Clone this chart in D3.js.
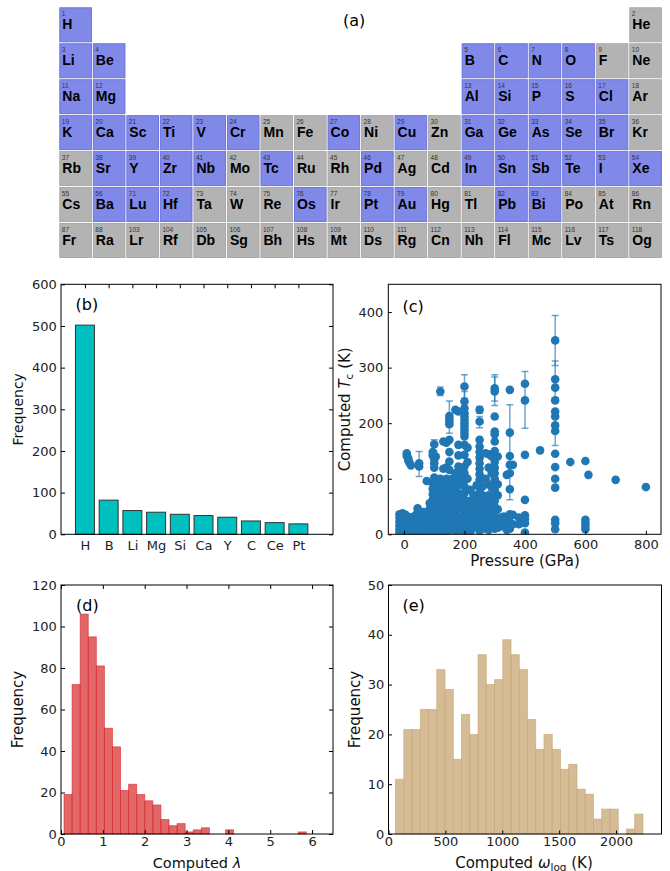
<!DOCTYPE html>
<html>
<head>
<meta charset="utf-8">
<script src="https://cdn.jsdelivr.net/npm/d3@7"></script>
<style>
  body { margin: 0; background: #fff; }
  text { font-family: "DejaVu Sans", sans-serif; }
</style>
</head>
<body>
<svg id="fig" width="670" height="871"></svg>
<script>
// ---------- data ----------
// (a) periodic table, one string per period, empty slot = no element
const tableRows = [
  "H,,,,,,,,,,,,,,,,,He",
  "Li,Be,,,,,,,,,,,B,C,N,O,F,Ne",
  "Na,Mg,,,,,,,,,,,Al,Si,P,S,Cl,Ar",
  "K,Ca,Sc,Ti,V,Cr,Mn,Fe,Co,Ni,Cu,Zn,Ga,Ge,As,Se,Br,Kr",
  "Rb,Sr,Y,Zr,Nb,Mo,Tc,Ru,Rh,Pd,Ag,Cd,In,Sn,Sb,Te,I,Xe",
  "Cs,Ba,Lu,Hf,Ta,W,Re,Os,Ir,Pt,Au,Hg,Tl,Pb,Bi,Po,At,Rn",
  "Fr,Ra,Lr,Rf,Db,Sg,Bh,Hs,Mt,Ds,Rg,Cn,Nh,Fl,Mc,Lv,Ts,Og"
];
const tableNumbers = [
  "1,,,,,,,,,,,,,,,,,2",
  "3,4,,,,,,,,,,,5,6,7,8,9,10",
  "11,12,,,,,,,,,,,13,14,15,16,17,18",
  "19,20,21,22,23,24,25,26,27,28,29,30,31,32,33,34,35,36",
  "37,38,39,40,41,42,43,44,45,46,47,48,49,50,51,52,53,54",
  "55,56,71,72,73,74,75,76,77,78,79,80,81,82,83,84,85,86",
  "87,88,103,104,105,106,107,108,109,110,111,112,113,114,115,116,117,118"
];
const studiedElements = ["H","Li","Be","Na","Mg","B","C","N","O","Al","Si","P","S","Cl",
  "K","Ca","Sc","Ti","V","Cr","Co","Cu","Ga","Ge","As","Se","Br",
  "Sr","Y","Zr","Nb","Tc","Pd","In","Sn","Sb","Te","I","Xe",
  "Ba","Lu","Hf","Os","Pt","Au","Pb","Bi"];

// (b) element frequency
const bCats = ["H","B","Li","Mg","Si","Ca","Y","C","Ce","Pt"];
const bCounts = [502, 82, 57, 53, 48, 45, 41, 32, 28, 25];
const bTicks = [0, 100, 200, 300, 400, 500, 600];

// (c) Tc vs pressure: [pressure GPa, list of Tc (K)]
const tcColumns = [
  [-15, [3, 9, 16, 23, 30, 36]],
  [-5, [2, 10, 18, 26, 33, 38]],
  [5, [4, 12, 20, 28, 35]],
  [9, [146, 141]],
  [14, [137, 133]],
  [18, [129]],
  [23, [124]],
  [15, [3, 9, 17, 25, 31]],
  [25, [5, 14, 22, 30]],
  [35, [3, 11, 19, 27, 33]],
  [45, [6, 15, 24, 32, 40, 47]],
  [50, [128, 122]],
  [55, [4, 12, 20, 28, 36]],
  [65, [5, 14, 23, 31, 40]],
  [75, [8, 18, 28, 38, 96]],
  [85, [6, 16, 26, 36, 46, 56]],
  [95, [4, 12, 22, 32, 42, 52, 62, 72, 82, 92, 142, 148]],
  [100, [162, 135, 128, 120, 102, 88, 76, 64, 50, 38, 26, 15, 6]],
  [105, [30, 58, 96, 140]],
  [110, [2, 12, 22, 44, 70, 84]],
  [120, [257, 100, 78, 60, 40, 20, 8]],
  [125, [52, 30, 16, 90]],
  [130, [167, 118, 96, 82, 68, 54, 40, 28, 14, 4]],
  [140, [165, 120, 100, 86, 72, 58, 46, 34, 22, 10, 2]],
  [150, [213, 208, 203, 198, 170, 148, 131, 116, 98, 90, 78, 66, 54, 42, 30, 18, 8]],
  [160, [100, 80, 60, 40, 22, 10]],
  [170, [224, 110, 96, 82, 70, 56, 44, 30, 18, 6]],
  [180, [221, 161, 142, 122, 102, 88, 74, 60, 46, 32, 20, 8]],
  [190, [112, 92, 70, 50, 30, 14]],
  [200, [266, 239, 227, 218, 212, 206, 200, 194, 188, 182, 176, 161, 143, 122, 110, 98, 86, 74, 62, 50, 38, 26, 14, 4]],
  [210, [156, 130, 100, 80, 60, 40, 20, 8]],
  [220, [80, 60, 46, 32, 16, 4]],
  [230, [70, 50, 38, 24, 12]],
  [240, [88, 60, 48, 30, 14]],
  [250, [224, 203, 170, 158, 148, 138, 128, 118, 108, 98, 88, 76, 64, 52, 40, 28, 16, 6]],
  [260, [86, 70, 56, 42, 30, 18]],
  [270, [146, 100, 60, 40, 24, 10]],
  [280, [144, 120, 90, 70, 52, 36, 20, 8]],
  [290, [140, 110, 84, 62, 44, 28, 14]],
  [300, [263, 257, 212, 185, 180, 167, 150, 140, 130, 120, 110, 100, 90, 80, 70, 60, 50, 40, 30, 20, 10]],
  [310, [140, 90, 70, 45, 26, 12]],
  [320, [30, 14]],
  [330, [32, 20]],
  [340, [107, 30, 18, 8]],
  [350, [260, 183, 141, 125, 110, 81, 36, 22, 10]],
  [360, [125, 35, 18]],
  [380, [30, 18]],
  [400, [271, 241, 143, 62, 34, 27, 20, 3]],
  [450, [151]],
  [500, [349, 279, 264, 241, 221, 212, 196, 186, 145, 121, 100, 84, 26, 20, 9]],
  [550, [130]],
  [600, [132, 26, 20, 15, 9]],
  [610, [107]],
  [700, [98]],
  [800, [85]]
];
// error bars: [pressure, low, high]
const tcErrors = [
  [50, 104, 149], [120, 250, 265], [150, 182, 240], [200, 245, 287], [200, 225, 257],
  [250, 192, 212], [250, 218, 230], [300, 240, 287], [300, 232, 283], [350, 62, 233],
  [400, 191, 293], [500, 304, 394], [500, 246, 312], [500, 160, 212], [100, 150, 170]
];
const cXTicks = [0, 200, 400, 600, 800];
const cYTicks = [0, 100, 200, 300, 400];

// (d) lambda histogram
const lamBinStart = 0.072, lamBinWidth = 0.193;
const lamCounts = [19, 72, 106, 95, 81, 51, 42, 21, 24, 19, 16, 14, 7, 4, 5,
                   1, 2, 3, 0, 0, 2, 0, 0, 0, 0, 0, 0, 0, 0, 1];
const dXTicks = [0, 1, 2, 3, 4, 5, 6];
const dYTicks = [0, 20, 40, 60, 80, 100, 120];

// (e) omega_log histogram
const wBinStart = 62, wBinWidth = 72.5;
const wCounts = [11, 21, 21, 25, 25, 33, 29, 15, 24, 20, 36, 30, 31, 39, 36,
                 33, 23, 17, 20, 17, 13, 14, 9, 8, 3, 5, 5, 0, 1, 4];
const eXTicks = [0, 500, 1000, 1500, 2000];
const eYTicks = [0, 10, 20, 30, 40, 50];

// ---------- drawing ----------
const svg = d3.select("#fig");

// (a) periodic table
const studied = new Set(studiedElements);
const colX = d3.scaleLinear().domain([0, 17]).range([59.3, 629.3]);
const rowY = d3.scaleLinear().domain([0, 6]).range([7.3, 223]);
const cellW = 32.6, cellH = 35;
const cells = [];
tableRows.forEach((row, r) => {
  const nums = tableNumbers[r].split(",");
  row.split(",").forEach((s, c) => { if (s) cells.push({sym: s, num: nums[c], r, c}); });
});
const cellG = svg.append("g").selectAll("g").data(cells).join("g")
  .attr("transform", d => `translate(${colX(d.c)},${rowY(d.r)})`);
cellG.append("rect")
  .attr("x", 0.5).attr("y", 0.5).attr("width", cellW - 1).attr("height", cellH - 1)
  .attr("fill", d => studied.has(d.sym) ? "#8189e8" : "#b3b3b3")
  .attr("stroke", d => studied.has(d.sym) ? "#6b74e0" : "#a9a9a9")
  .attr("stroke-width", 1);
cellG.append("text").attr("x", 2.5).attr("y", 9)
  .style("font-family", "'Liberation Sans', Arial, sans-serif")
  .style("font-size", "6.5px").attr("fill", "#333").text(d => d.num);
cellG.append("text").attr("x", 3).attr("y", 22)
  .style("font-family", "'Liberation Sans', Arial, sans-serif")
  .style("font-size", "14px").style("font-weight", "bold").attr("fill", "#000")
  .text(d => d.sym);
svg.append("text").attr("x", 343).attr("y", 26).style("font-size", "16px").text("(a)");

// axis helper: inside ticks, optional mirrored ticks, frame
function frame(g, x, y, opts) {
  const [x0, x1] = x.range(), [y0, y1] = y.range();
  const tick = opts.tick || 4;
  const fs = opts.fontSize || "13px";
  const bottom = g.append("g").attr("transform", `translate(0,${y0})`)
    .call(d3.axisBottom(x).tickValues(opts.xTicks).tickSize(-tick)
      .tickPadding(opts.xPad || 3).tickFormat(opts.xFormat || d3.format("d")));
  const left = g.append("g").attr("transform", `translate(${x0},0)`)
    .call(d3.axisLeft(y).tickValues(opts.yTicks).tickSize(-tick)
      .tickPadding(opts.yPad || 4.3).tickFormat(d3.format("d")));
  if (opts.mirror) {
    g.append("g").attr("transform", `translate(0,${y1})`)
      .call(d3.axisTop(x).tickValues(opts.xTicks).tickSize(-tick).tickFormat(""));
    g.append("g").attr("transform", `translate(${x1},0)`)
      .call(d3.axisRight(y).tickValues(opts.yTicks).tickSize(-tick).tickFormat(""));
  }
  g.selectAll(".domain").remove();
  g.selectAll(".tick line").attr("stroke", "#000").attr("stroke-width", 1);
  g.selectAll(".tick text").attr("fill", "#222").style("font-size", fs)
    .style("font-family", "'DejaVu Sans', sans-serif");
  g.append("rect").attr("x", x0).attr("y", y1).attr("width", x1 - x0).attr("height", y0 - y1)
    .attr("fill", "none").attr("stroke", "#000").attr("stroke-width", 1);
  return {bottom, left};
}
function yLabel(cx, cy, size, parts) {
  const t = svg.append("text").attr("transform", `translate(${cx},${cy}) rotate(-90)`)
    .attr("text-anchor", "middle").style("font-size", size).attr("fill", "#111");
  parts(t);
}

// (b) bar chart
{
  const x = d3.scaleLinear().domain([-1.01, 10.46]).range([61, 333]);
  const y = d3.scaleLinear().domain([0, 600]).range([534.3, 284.3]);
  const g = svg.append("g");
  const bw = x(0.4) - x(0);
  g.selectAll("rect.bar").data(bCounts).join("rect").attr("class", "bar")
    .attr("x", (d, i) => x(i) - bw).attr("width", 2 * bw)
    .attr("y", d => y(d)).attr("height", d => y(0) - y(d))
    .attr("fill", "#00bfbf").attr("stroke", "#333").attr("stroke-width", 1);
  const ax = svg.append("g");
  // top ticks at categories
  ax.append("g").attr("transform", `translate(0,284.3)`)
    .call(d3.axisTop(x).tickValues(d3.range(bCats.length)).tickSize(-4).tickFormat(""));
  ax.append("g").attr("transform", `translate(0,534.3)`)
    .call(d3.axisBottom(x).tickValues(d3.range(bCats.length)).tickSize(0).tickPadding(6)
      .tickFormat(i => bCats[i]));
  ax.append("g").attr("transform", `translate(61,0)`)
    .call(d3.axisLeft(y).tickValues(bTicks).tickSize(-4).tickPadding(4.3));
  ax.append("g").attr("transform", `translate(333,0)`)
    .call(d3.axisRight(y).tickValues(bTicks).tickSize(-4).tickFormat(""));
  ax.selectAll(".domain").remove();
  ax.selectAll(".tick line").attr("stroke", "#000");
  ax.selectAll(".tick text").attr("fill", "#222").style("font-size", "13px")
    .style("font-family", "'DejaVu Sans', sans-serif");
  ax.append("rect").attr("x", 61).attr("y", 284.3).attr("width", 272).attr("height", 250)
    .attr("fill", "none").attr("stroke", "#000");
  svg.append("text").attr("x", 75.5).attr("y", 310).style("font-size", "16px").text("(b)");
  yLabel(22.5, 409.3, "14px", t => t.text("Frequency"));
}

// (c) scatter with error bars
{
  const x = d3.scaleLinear().domain([-52, 850]).range([388.3, 661]);
  const y = d3.scaleLinear().domain([0, 450]).range([534.3, 284.3]);
  svg.append("clipPath").attr("id", "clipC").append("rect")
    .attr("x", 388.3).attr("y", 284.3).attr("width", 272.7).attr("height", 250);
  const g = svg.append("g").attr("clip-path", "url(#clipC)");
  const pts = tcColumns.flatMap(([p, ts]) => ts.map(t => [p, t]));
  const eb = g.append("g").attr("stroke", "#1f77b4").attr("stroke-opacity", 0.65)
    .attr("stroke-width", 1.5);
  tcErrors.forEach(([p, lo, hi]) => {
    eb.append("line").attr("x1", x(p)).attr("x2", x(p)).attr("y1", y(lo)).attr("y2", y(hi));
    [lo, hi].forEach(v => eb.append("line").attr("x1", x(p) - 3.5).attr("x2", x(p) + 3.5)
      .attr("y1", y(v)).attr("y2", y(v)));
  });
  g.append("g").selectAll("circle").data(pts).join("circle")
    .attr("cx", d => x(d[0])).attr("cy", d => y(d[1])).attr("r", 4.3)
    .attr("fill", "#1f77b4");
  const ax = svg.append("g");
  frame(ax, x, y, {xTicks: cXTicks, yTicks: cYTicks, tick: 3.5, xPad: 5, yPad: 5});
  svg.append("text").attr("x", 402.5).attr("y", 311.5).style("font-size", "16px").text("(c)");
  svg.append("text").attr("x", 525).attr("y", 565.5).attr("text-anchor", "middle")
    .style("font-size", "15px").attr("fill", "#111").text("Pressure (GPa)");
  yLabel(350, 409.3, "15px", t => {
    t.append("tspan").text("Computed ");
    t.append("tspan").style("font-style", "italic").text("T");
    t.append("tspan").attr("dy", 3).style("font-size", "10.5px").text("c");
    t.append("tspan").attr("dy", -3).text(" (K)");
  });
}

// (d) lambda histogram
{
  const x = d3.scaleLinear().domain([0, 6.5]).range([61, 333]);
  const y = d3.scaleLinear().domain([0, 120]).range([834, 585]);
  const g = svg.append("g");
  g.selectAll("rect").data(lamCounts).join("rect")
    .attr("x", (d, i) => x(lamBinStart + i * lamBinWidth))
    .attr("width", (d, i) => x(lamBinStart + (i + 1) * lamBinWidth) - x(lamBinStart + i * lamBinWidth))
    .attr("y", d => y(d)).attr("height", d => y(0) - y(d))
    .attr("fill", "#d62728").attr("fill-opacity", 0.7)
    .attr("stroke", "#d62728").attr("stroke-opacity", 0.7).attr("stroke-width", 0.8);
  const ax = svg.append("g");
  frame(ax, x, y, {xTicks: dXTicks, yTicks: dYTicks, mirror: true, xPad: 3});
  svg.append("text").attr("x", 76).attr("y", 610.5).style("font-size", "16px").text("(d)");
  const t = svg.append("text").attr("x", 197).attr("y", 867.5).attr("text-anchor", "middle")
    .style("font-size", "14.5px").attr("fill", "#111");
  t.append("tspan").text("Computed ");
  t.append("tspan").style("font-style", "italic").text("λ");
  yLabel(22.5, 709.5, "15px", t => t.text("Frequency"));
}

// (e) omega_log histogram
{
  const x = d3.scaleLinear().domain([0, 2400]).range([388.5, 661.5]);
  const y = d3.scaleLinear().domain([0, 50]).range([834, 585]);
  const g = svg.append("g");
  g.selectAll("rect").data(wCounts).join("rect")
    .attr("x", (d, i) => x(wBinStart + i * wBinWidth))
    .attr("width", (d, i) => x(wBinStart + (i + 1) * wBinWidth) - x(wBinStart + i * wBinWidth))
    .attr("y", d => y(d)).attr("height", d => y(0) - y(d))
    .attr("fill", "#d2b48c").attr("fill-opacity", 0.9)
    .attr("stroke", "#c8a878").attr("stroke-opacity", 0.8).attr("stroke-width", 0.8);
  const ax = svg.append("g");
  frame(ax, x, y, {xTicks: eXTicks, yTicks: eYTicks, tick: 3.5, xPad: 3});
  svg.append("text").attr("x", 402.5).attr("y", 610.5).style("font-size", "16px").text("(e)");
  const t = svg.append("text").attr("x", 524).attr("y", 867.5).attr("text-anchor", "middle")
    .style("font-size", "15px").attr("fill", "#111");
  t.append("tspan").text("Computed ");
  t.append("tspan").style("font-style", "italic").text("ω");
  t.append("tspan").attr("dy", 3).style("font-size", "10.5px").text("log");
  t.append("tspan").attr("dy", -3).text(" (K)");
  yLabel(360, 709.5, "15px", t => t.text("Frequency"));
}
</script>
</body>
</html>
